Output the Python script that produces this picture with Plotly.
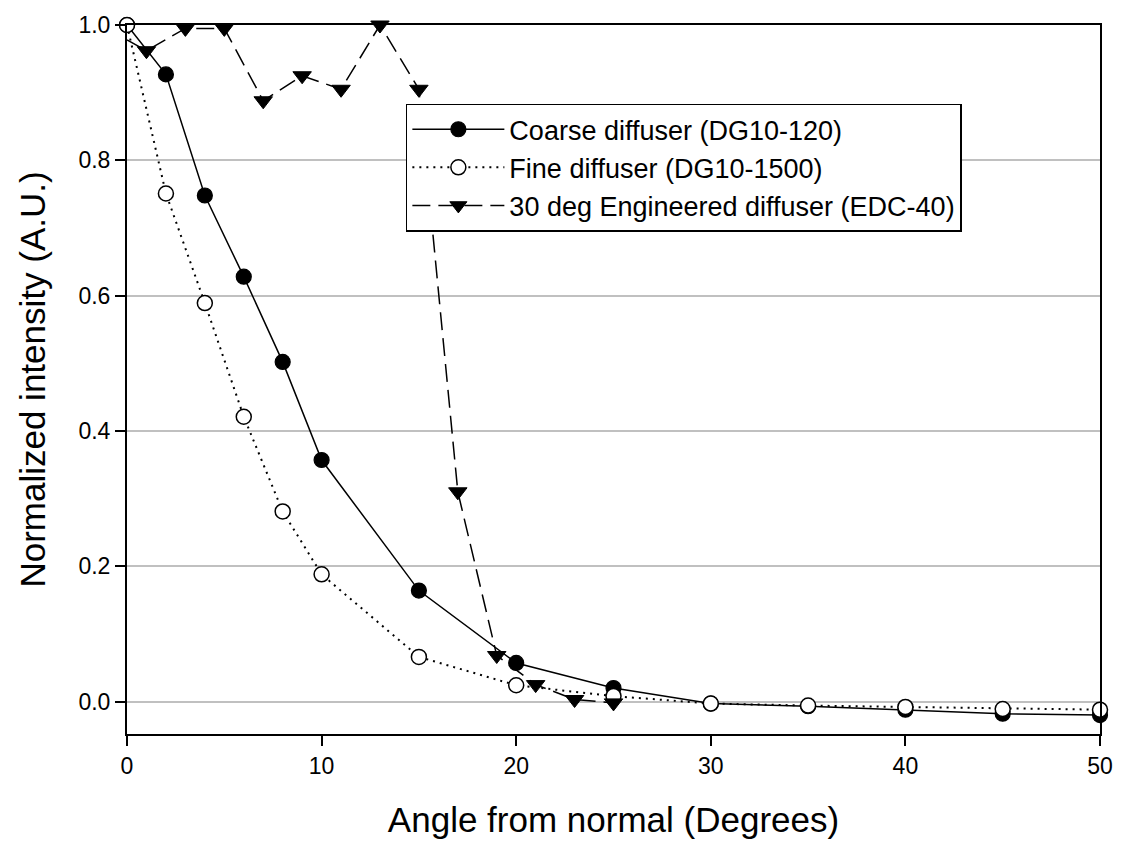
import plotly.graph_objects as go

# Data
coarse_x = [0, 2, 4, 6, 8, 10, 15, 20, 25, 30, 35, 40, 45, 50]
coarse_y = [1.0, 0.927, 0.748, 0.628, 0.502, 0.357, 0.164, 0.057, 0.020, -0.003, -0.007, -0.012, -0.018, -0.020]

fine_x = [0, 2, 4, 6, 8, 10, 15, 20, 25, 30, 35, 40, 45, 50]
fine_y = [1.0, 0.751, 0.589, 0.421, 0.281, 0.188, 0.066, 0.024, 0.008, -0.003, -0.006, -0.008, -0.011, -0.012]

edc_x = [0, 1, 3, 5, 7, 9, 11, 13, 15, 17, 19, 21, 23, 25]
edc_y = [0.978, 0.962, 0.995, 0.995, 0.888, 0.925, 0.905, 1.0, 0.905, 0.31, 0.068, 0.025, 0.003, -0.002]

names = ["Coarse diffuser (DG10-120)", "Fine diffuser (DG10-1500)", "30 deg Engineered diffuser (EDC-40)"]

x_ticks = [0, 10, 20, 30, 40, 50]
y_ticks = [0.0, 0.2, 0.4, 0.6, 0.8, 1.0]
y_tick_text = ["0.0", "0.2", "0.4", "0.6", "0.8", "1.0"]

FONT = "Liberation Sans, Arial, sans-serif"

fig = go.Figure()
fig.add_trace(go.Scatter(
    x=coarse_x, y=coarse_y, name=names[0], mode="lines+markers",
    line=dict(color="black", width=1.5, dash="solid"),
    marker=dict(symbol="circle", size=15, color="black", opacity=1,
                line=dict(color="black", width=1.2)),
    cliponaxis=False,
))
fig.add_trace(go.Scatter(
    x=fine_x, y=fine_y, name=names[1], mode="lines+markers",
    line=dict(color="black", width=2, dash="2px,5px"),
    marker=dict(symbol="circle", size=15, color="white", opacity=1,
                line=dict(color="black", width=1.5)),
    cliponaxis=False,
))
edc_sizes = [0] + [16] * (len(edc_x) - 1)
fig.add_trace(go.Scatter(
    x=edc_x, y=edc_y, name=names[2], mode="lines+markers",
    line=dict(color="black", width=1.5, dash="18px,8px"),
    marker=dict(symbol="triangle-down", size=edc_sizes, color="black", opacity=1,
                line=dict(color="black", width=1)),
    cliponaxis=False,
))

fig.update_layout(
    width=1125, height=858,
    margin=dict(l=127, r=21, t=18, b=124),
    paper_bgcolor="white", plot_bgcolor="white",
    font=dict(family=FONT, color="black", size=22),
    showlegend=True,
    legend=dict(
        x=0.2866, y=0.889, xanchor="left", yanchor="top",
        bgcolor="white", bordercolor="black", borderwidth=1.5,
        font=dict(family=FONT, size=27, color="black"),
        itemwidth=92, tracegroupgap=0,
    ),
    xaxis=dict(
        range=[0, 50], tickvals=x_ticks, ticks="outside", ticklen=10, tickwidth=1.5,
        tickcolor="black", showline=True, linecolor="black", linewidth=2, mirror=True,
        showgrid=False, zeroline=False,
        tickfont=dict(family=FONT, size=23),
        title=dict(text="Angle from normal (Degrees)", font=dict(family=FONT, size=35), standoff=30),
    ),
    yaxis=dict(
        range=[-0.048, 1.0], tickvals=y_ticks, ticktext=y_tick_text, ticks="outside", ticklen=10,
        tickwidth=1.5, tickcolor="black", showline=True, linecolor="black", linewidth=2, mirror=True,
        showgrid=True, gridcolor="#c0c0c0", gridwidth=2, zeroline=False,
        tickfont=dict(family=FONT, size=23),
        title=dict(text="Normalized intensity (A.U.)", font=dict(family=FONT, size=35), standoff=22),
    ),
)

fig.write_html("out.html")
